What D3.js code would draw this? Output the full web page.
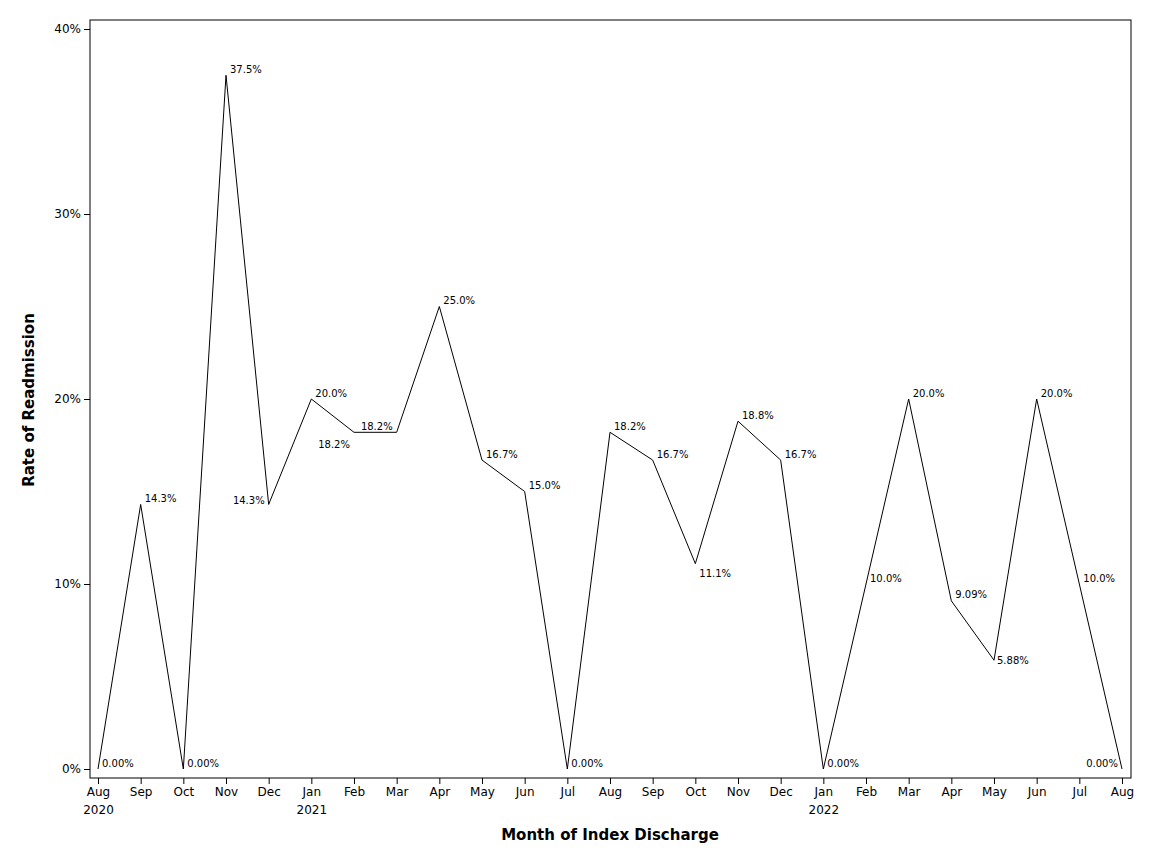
<!DOCTYPE html>
<html><head><meta charset="utf-8">
<script src="https://cdn.jsdelivr.net/npm/d3@7"></script>
<style>body{margin:0;background:#fff}text{font-family:"DejaVu Sans",sans-serif}</style>
</head><body><svg id="chart"></svg>
<script>
const months = ["Aug","Sep","Oct","Nov","Dec","Jan","Feb","Mar","Apr","May","Jun","Jul",
                "Aug","Sep","Oct","Nov","Dec","Jan","Feb","Mar","Apr","May","Jun","Jul","Aug"];
const years = {0:"2020",5:"2021",17:"2022"};
const rates = [0,14.3,0,37.5,14.3,20.0,18.2,18.2,25.0,16.7,15.0,0,18.2,16.7,11.1,18.8,16.7,0,10.0,20.0,9.09,5.88,20.0,10.0,0];
const labels = ["0.00%","14.3%","0.00%","37.5%","14.3%","20.0%","18.2%","18.2%","25.0%","16.7%","15.0%","0.00%",
                "18.2%","16.7%","11.1%","18.8%","16.7%","0.00%","10.0%","20.0%","9.09%","5.88%","20.0%","10.0%","0.00%"];
const labelPos = ["ne","ne","ne","ne","w","ne","sw","nw","ne","ne","ne","ne","ne","ne","se","ne","ne","ne","ne","ne","ne","e","ne","ne","nw"];
const yTicks = [0,10,20,30,40];

const W = 1152, H = 864;
const MARGIN = {left: 90, top: 20, right: 21, bottom: 86};
const svg = d3.select("#chart").attr("width", W).attr("height", H);

const x = d3.scaleLinear().domain([0, months.length - 1]).range([98, 1122]);
const y = d3.scaleLinear().domain([0, 40]).range([769, 29]);

svg.append("rect").attr("x", MARGIN.left).attr("y", MARGIN.top)
  .attr("width", W - MARGIN.left - MARGIN.right).attr("height", H - MARGIN.top - MARGIN.bottom)
  .attr("fill", "none").attr("stroke", "#000");

const yAxis = svg.append("g").attr("transform", `translate(${MARGIN.left},0)`)
  .call(d3.axisLeft(y).tickValues(yTicks).tickFormat(d => d + "%").tickSizeOuter(0));
yAxis.select(".domain").remove();
yAxis.selectAll("text").style("font-size", "12px").attr("font-family", "DejaVu Sans");

const xAxis = svg.append("g").attr("transform", `translate(0,${H - MARGIN.bottom})`)
  .call(d3.axisBottom(x).tickValues(d3.range(months.length)).tickFormat(i => months[i]).tickSizeOuter(0));
xAxis.select(".domain").remove();
xAxis.selectAll("text").style("font-size", "12px").attr("font-family", "DejaVu Sans");
xAxis.selectAll(".tick").filter(i => years[i]).append("text")
  .attr("y", 27).attr("dy", "0.71em").attr("fill", "#000").attr("text-anchor", "middle")
  .style("font-size", "12px").text(i => years[i]);

const line = d3.line().x((d, i) => x(i)).y(d => y(d));
svg.append("path").datum(rates).attr("d", line).attr("fill", "none").attr("stroke", "#000").attr("stroke-width", 1);

const off = {
  ne: [4, -6, "start"], e: [3, 0, "start"], se: [4, 10, "start"],
  w: [-4, -4, "end"], nw: [-4, -6, "end"], sw: [-4, 12, "end"]
};
svg.append("g").selectAll("text").data(rates).join("text")
  .attr("x", (d, i) => x(i) + off[labelPos[i]][0])
  .attr("y", (d, i) => y(d) + off[labelPos[i]][1])
  .attr("dy", "0.35em")
  .attr("text-anchor", (d, i) => off[labelPos[i]][2])
  .style("font-size", "10px")
  .text((d, i) => labels[i]);

svg.append("text").attr("x", 610).attr("y", 840).attr("text-anchor", "middle")
  .style("font-size", "15px").style("font-weight", "bold").text("Month of Index Discharge");
svg.append("text").attr("transform", "translate(34,400) rotate(-90)").attr("text-anchor", "middle")
  .style("font-size", "15px").style("font-weight", "bold").text("Rate of Readmission");
</script></body></html>
